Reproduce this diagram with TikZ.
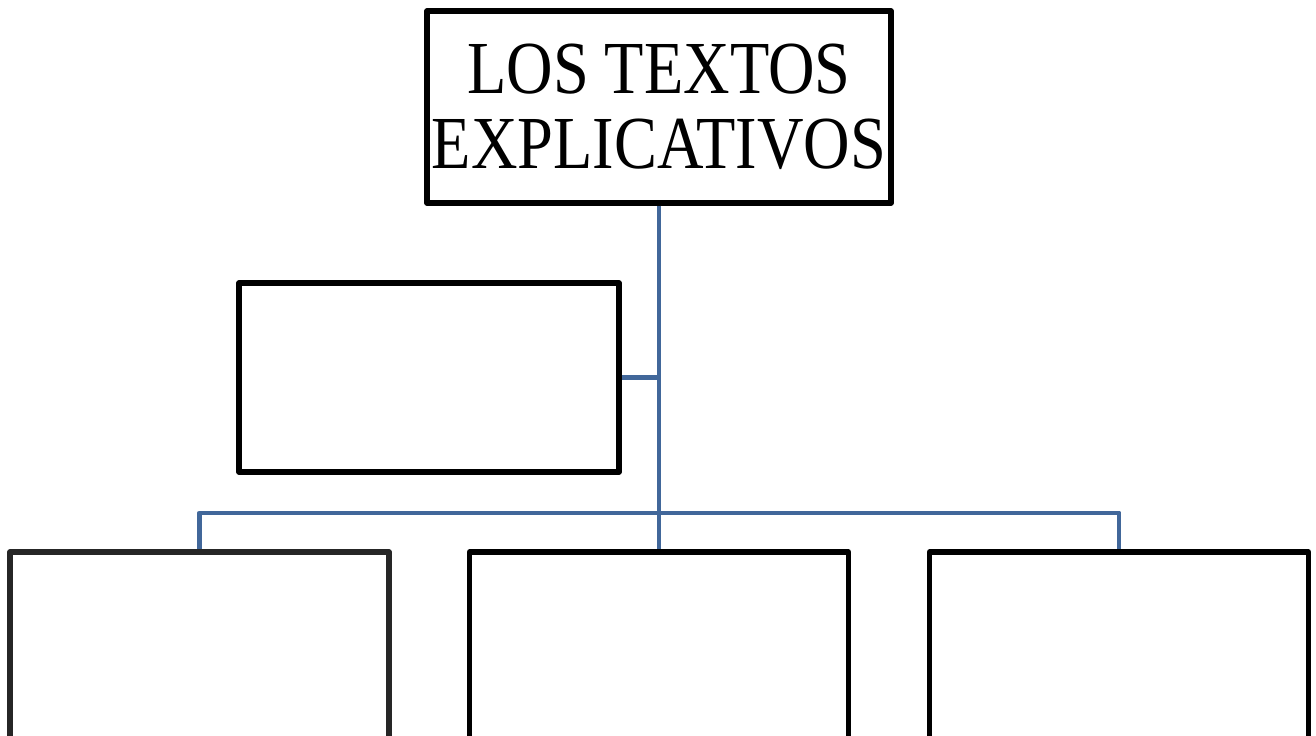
\documentclass[tikz,border=0pt]{standalone}
\usepackage{fontspec}
\setmainfont[FakeStretch=0.86]{Liberation Serif}
\definecolor{linkblue}{HTML}{41679A}
\definecolor{darkframe}{HTML}{262626}

\begin{document}
\begin{tikzpicture}[line join=round]
  \tikzstyle{box}=[draw=black,line width=1.5pt,inner sep=0pt]
  \tikzstyle{title box}=[box,minimum width=4.64cm,minimum height=1.92cm,align=center,
    font=\fontsize{21.3}{21.3}\selectfont]
  \tikzstyle{side box}=[box,minimum width=3.8cm,minimum height=1.89cm]
  \tikzstyle{leaf box}=[box,minimum width=3.79cm,minimum height=2.4cm]
  \tikzstyle{link}=[draw=linkblue,line width=1.4pt]

  \useasboundingbox (0,0) rectangle (13.16,-7.36);

  % Title and the box at its side
  \node[title box] (T) at (6.59,-1.07) {LOS TEXTOS\\EXPLICATIVOS};
  \node[side box] (S) at (4.29,-3.775) {};

  % The three boxes at the bottom
  \node[leaf box,draw=darkframe] (L-1) at (1.995,-6.72) {};
  \foreach \name / \x in {2/6.59,3/11.19}
      \node[leaf box] (L-\name) at (\x,-6.72) {};

  \coordinate (bar) at (6.59,-5.13);

  % Connect them
  \path[link] (T.south) -- (L-2.north);
  \path[link] (S.east) -- (S.east -| T.south);
  \path[link] (L-1.north) |- (bar) -| (L-3.north);
\end{tikzpicture}
\end{document}
